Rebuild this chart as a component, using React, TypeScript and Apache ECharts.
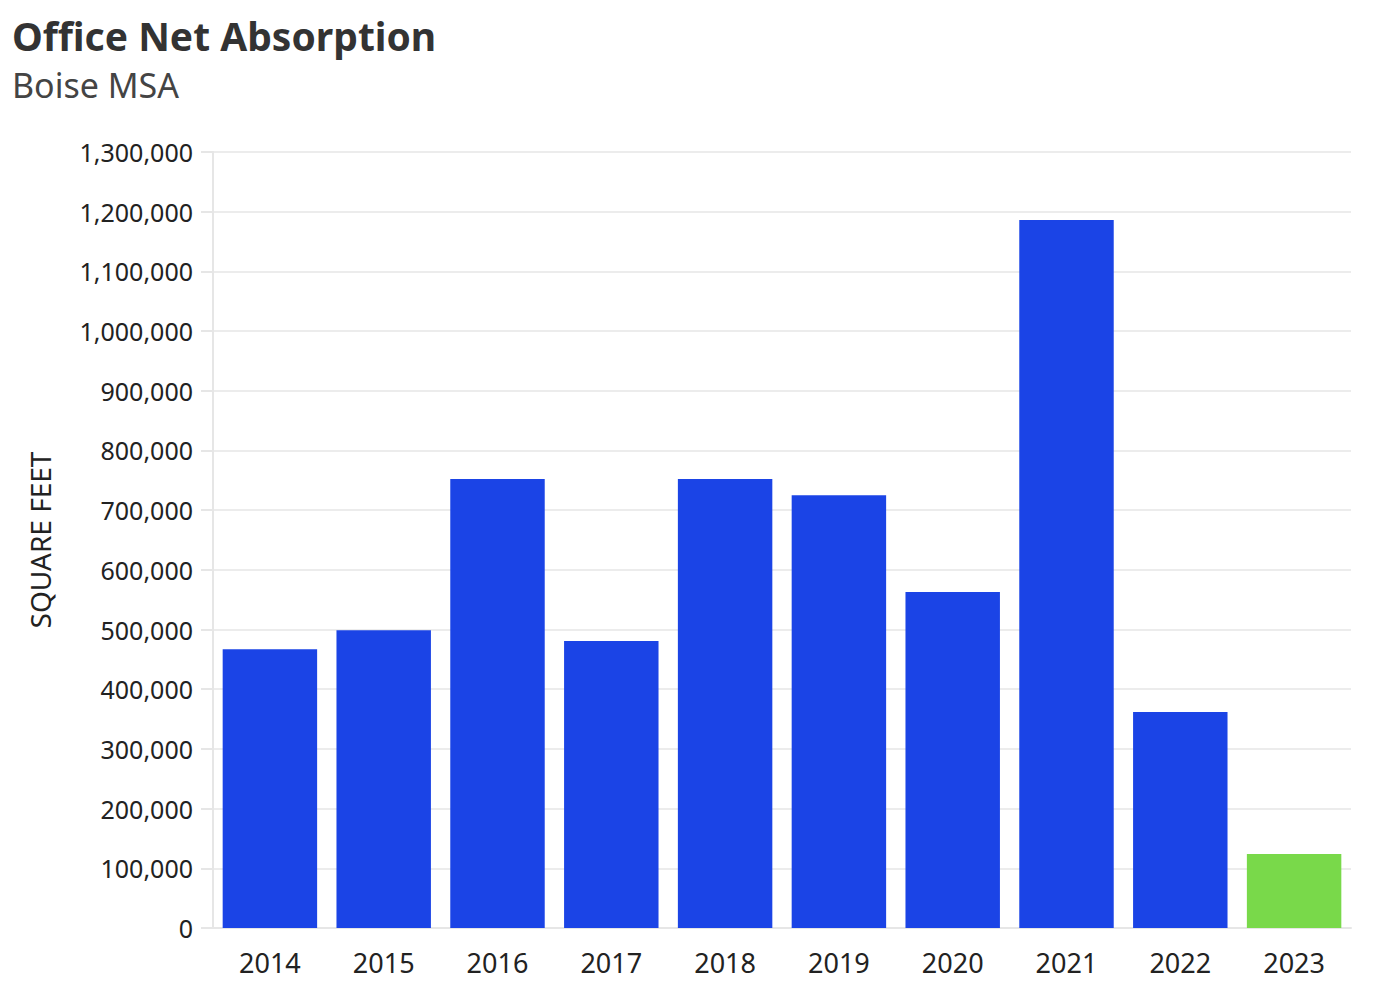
import React, { useEffect, useRef } from "react";
import * as echarts from "echarts";

const years = ["2014", "2015", "2016", "2017", "2018", "2019", "2020", "2021", "2022", "2023"];
const absorption = [467000, 499000, 752000, 481000, 752000, 725000, 563000, 1186000, 362000, 124000];
const barColors = ["#1b44e6", "#1b44e6", "#1b44e6", "#1b44e6", "#1b44e6", "#1b44e6", "#1b44e6", "#1b44e6", "#1b44e6", "#79d94a"];
const titleText = "Office Net Absorption";
const subtitleText = "Boise MSA";
const yAxisName = "SQUARE FEET";

const FONT = "'Noto Sans', sans-serif";

export default function App() {
  const ref = useRef<HTMLDivElement>(null);
  useEffect(() => {
    if (!ref.current) return;
    const chart = echarts.init(ref.current, undefined, { renderer: "svg" });
    chart.setOption({
      animation: false,
      backgroundColor: "#ffffff",
      textStyle: { fontFamily: FONT },
      title: [
        {
          text: titleText,
          left: 0,
          top: -2,
          padding: [4, 4, 4, 4],
          textStyle: { fontFamily: FONT, fontSize: 39, fontWeight: "bold", color: "#333333", lineHeight: 50 },
        },
        {
          text: subtitleText,
          left: 0,
          top: 51,
          padding: [4, 4, 4, 4],
          textStyle: { fontFamily: FONT, fontSize: 34, fontWeight: "normal", color: "#444444", lineHeight: 44 },
        },
      ],
      grid: { left: 205, right: 41, top: 144, bottom: 66, containLabel: false },
      xAxis: {
        type: "category",
        data: years,
        axisLine: { show: true, lineStyle: { color: "#e6e6e6", width: 2 } },
        axisTick: { show: false },
        axisLabel: { fontFamily: FONT, fontSize: 27, color: "#222222", margin: 21 },
      },
      yAxis: {
        type: "value",
        min: 0,
        max: 1300000,
        interval: 100000,
        name: yAxisName,
        nameLocation: "middle",
        nameRotate: 90,
        nameGap: 159,
        nameTextStyle: { fontFamily: FONT, fontSize: 28, color: "#222222" },
        axisLine: { show: true, lineStyle: { color: "#e6e6e6", width: 2 } },
        axisTick: { show: true, length: 12, lineStyle: { color: "#e6e6e6", width: 2 } },
        splitLine: { show: true, lineStyle: { color: "#ececec", width: 2 } },
        axisLabel: {
          fontFamily: FONT,
          fontSize: 25,
          color: "#222222",
          margin: 20,
          formatter: (v: number) => v.toLocaleString("en-US"),
        },
      },
      series: [
        {
          type: "bar",
          data: absorption.map((v, i) => ({ value: v, itemStyle: { color: barColors[i] } })),
          barCategoryGap: "17%",
        },
      ],
    });
    return () => chart.dispose();
  }, []);
  return <div ref={ref} style={{ width: 1384, height: 986 }} />;
}
